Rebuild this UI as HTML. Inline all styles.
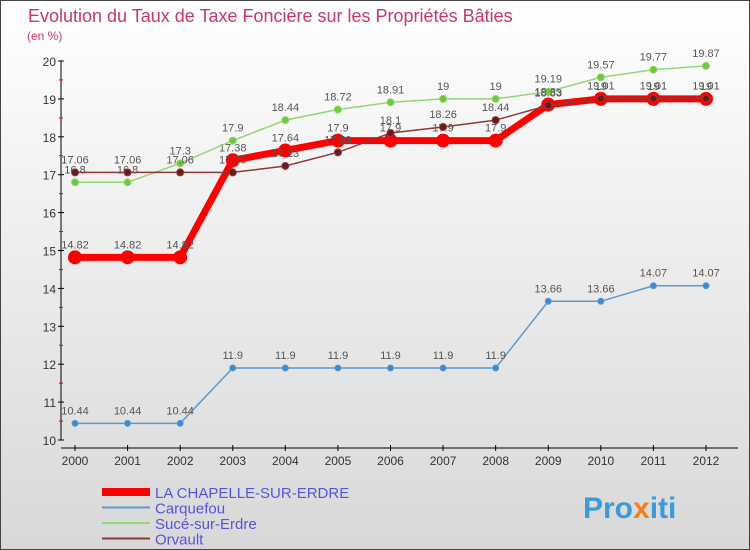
<!DOCTYPE html>
<html><head><meta charset="utf-8"><style>
body{margin:0;width:750px;height:550px;overflow:hidden;font-family:"Liberation Sans",sans-serif}
#c{position:absolute;left:0;top:0;width:748px;height:548px;border:1px solid #444;background:linear-gradient(#fff,#d8d8d8)}
</style></head><body>
<div id="c">
<svg id="s" width="750" height="550" style="position:absolute;left:-1px;top:-1px">
<text x="28" y="22" font-size="18" fill="#c8385f">Evolution du Taux de Taxe Foncière sur les Propriétés Bâties</text>
<text x="27" y="40" font-size="12" fill="#c8385f">(en %)</text>
<g id="g"></g>
<text x="583" y="518" font-size="30" font-weight="bold" fill="#3a9bd8">Pro<tspan fill="#f08020">x</tspan>iti</text>
</svg></div>
<script>
const years=[2000,2001,2002,2003,2004,2005,2006,2007,2008,2009,2010,2011,2012];
const yTicks=[10,11,12,13,14,15,16,17,18,19,20];
const chapelle=[14.82,14.82,14.82,17.38,17.64,17.9,17.9,17.9,17.9,18.85,19,19,19];
const carquefou=[10.44,10.44,10.44,11.9,11.9,11.9,11.9,11.9,11.9,13.66,13.66,14.07,14.07];
const suce=[16.8,16.8,17.3,17.9,18.44,18.72,18.91,19,19,19.19,19.57,19.77,19.87];
const orvault=[17.06,17.06,17.06,17.06,17.23,17.59,18.1,18.26,18.44,18.83,19.01,19.01,19.01];
const names=["LA CHAPELLE-SUR-ERDRE","Carquefou","Sucé-sur-Erdre","Orvault"];
const NS="http://www.w3.org/2000/svg",g=document.getElementById('g');
const X=i=>75+i*(706-75)/(years.length-1), Y=v=>440-(v-10)*37.9;
function el(t,a,p){const e=document.createElementNS(NS,t);for(const k in a)e.setAttribute(k,a[k]);(p||g).appendChild(e);return e;}
let ax=el('line',{x1:61,y1:61,x2:61,y2:440,stroke:'#000'});


let xa=el('line',{x1:61,y1:448,x2:738,y2:448,stroke:'#000'});


yTicks.forEach(v=>{el('line',{x1:58,y1:Y(v),x2:64,y2:Y(v),stroke:'#000'});
if(v<20)el('line',{x1:59,y1:Y(v+0.5),x2:63,y2:Y(v+0.5),stroke:'#d00'});
const t=el('text',{x:56,y:Y(v)+5,'font-size':12,fill:'#333','text-anchor':'end'});t.textContent=v;

});
years.forEach((yr,i)=>{el('line',{x1:X(i),y1:445,x2:X(i),y2:451,stroke:'#000'});
const t=el('text',{x:X(i),y:465,'font-size':12,fill:'#333','text-anchor':'middle'});t.textContent=yr;

});
function series(d,col,w,r,fill,name){
const pl=el('polyline',{points:d.map((v,i)=>X(i)+','+Y(v)).join(' '),fill:'none',stroke:col,'stroke-width':w});


d.forEach((v,i)=>{const c=el('circle',{cx:X(i),cy:Y(v),r:r,fill:fill,stroke:col,'stroke-width':1});


const t=el('text',{x:X(i),y:Y(v)-9,'font-size':11,fill:'#555','text-anchor':'middle'});t.textContent=v;

});}
series(chapelle,'#f00',7,6.5,'#f00','chapelle');
series(carquefou,'#5a9ad0',1.5,3,'#3a8ad0','carquefou');
series(suce,'#90d870',1.5,3.5,'#70c840','suce');
series(orvault,'#8b3a3a',1.5,3.5,'#6b1a1a','orvault');
const lc=['#f00','#5a9ad0','#90d870','#8b3a3a'],lw=[8,2,2,2];
names.forEach((n,i)=>{const y=492+i*15.5;
const l=el('line',{x1:102,y1:y,x2:150,y2:y,stroke:lc[i],'stroke-width':lw[i]});


const t=el('text',{x:155,y:y+6,'font-size':15,fill:'#5555dd'});t.textContent=n;

});
</script></body></html>
